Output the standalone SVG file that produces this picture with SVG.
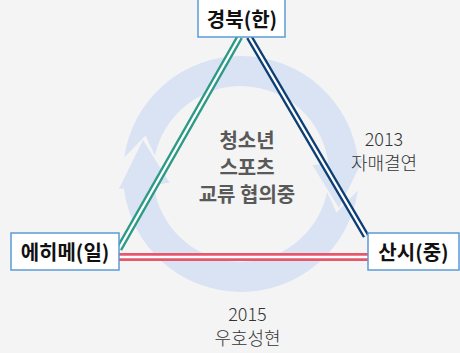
<svg xmlns="http://www.w3.org/2000/svg" width="460" height="353" viewBox="0 0 460 353">
<style>
.ring{fill:#d9e3f4}
.box{fill:#ffffff;stroke:#5b9bd5;stroke-width:1.5}
.node{font-family:"Noto Sans CJK KR","Noto Sans",sans-serif;font-size:20px;font-weight:700;fill:#111;text-anchor:middle}
.mid{font-family:"Noto Sans CJK KR","Noto Sans",sans-serif;font-size:20px;font-weight:700;fill:#595959;text-anchor:middle}
.lbl{font-family:"Noto Sans CJK KR","Noto Sans",sans-serif;font-size:18px;font-weight:300;fill:#333;text-anchor:middle}
.gap{stroke:#ffffff;stroke-width:2.4;fill:none}
</style>
<rect x="0" y="0" width="460" height="353" fill="#f4f4f4"/>
<g id="cycle">
<path class="ring" d="M124.15,157.58 A118,118 0 0 1 358.1,159.6 L363.1,159.0 L339.0,207.9 L312.5,165.2 L328.3,163.3 A88,88 0 0 0 154.9,155.7 L145.5,135.4 Z"/>
<path class="ring" d="M357.85,190.42 A118,118 0 0 1 123.9,188.4 L118.9,189.0 L143.0,140.1 L169.5,182.8 L153.7,184.7 A88,88 0 0 0 327.1,192.3 L336.5,212.6 Z"/>
</g>
<g id="connectors">
<line x1="239.7" y1="37" x2="119" y2="249" stroke="#2d9a85" stroke-width="7"/>
<line class="gap" x1="239.7" y1="37" x2="119" y2="249"/>
<line x1="249.3" y1="37" x2="366" y2="236" stroke="#0e3f74" stroke-width="7"/>
<line class="gap" x1="249.3" y1="37" x2="366" y2="236"/>
<line x1="119" y1="257" x2="368" y2="257" stroke="#e8566c" stroke-width="8"/>
<line class="gap" x1="119" y1="257" x2="368" y2="257"/>
</g>
<g id="node-gyeongbuk">
<rect class="box" x="198" y="-1" width="87" height="38"/>
<text class="node" x="242" y="26.5">경북(한)</text>
</g>
<g id="node-ehime">
<rect class="box" x="11" y="233" width="108" height="37"/>
<text class="node" x="65" y="259.5">에히메(일)</text>
</g>
<g id="node-shanxi">
<rect class="box" x="368" y="233" width="91" height="37"/>
<text class="node" x="413.5" y="259.5">산시(중)</text>
</g>
<g id="center-label">
<text class="mid" x="247" y="148">청소년</text>
<text class="mid" x="247" y="175">스포츠</text>
<text class="mid" x="247" y="202">교류 협의중</text>
</g>
<g id="label-2013">
<text class="lbl" x="384" y="146">2013</text>
<text class="lbl" x="384" y="169.5">자매결연</text>
</g>
<g id="label-2015">
<text class="lbl" x="247.5" y="321">2015</text>
<text class="lbl" x="247.5" y="345">우호성현</text>
</g>
</svg>
